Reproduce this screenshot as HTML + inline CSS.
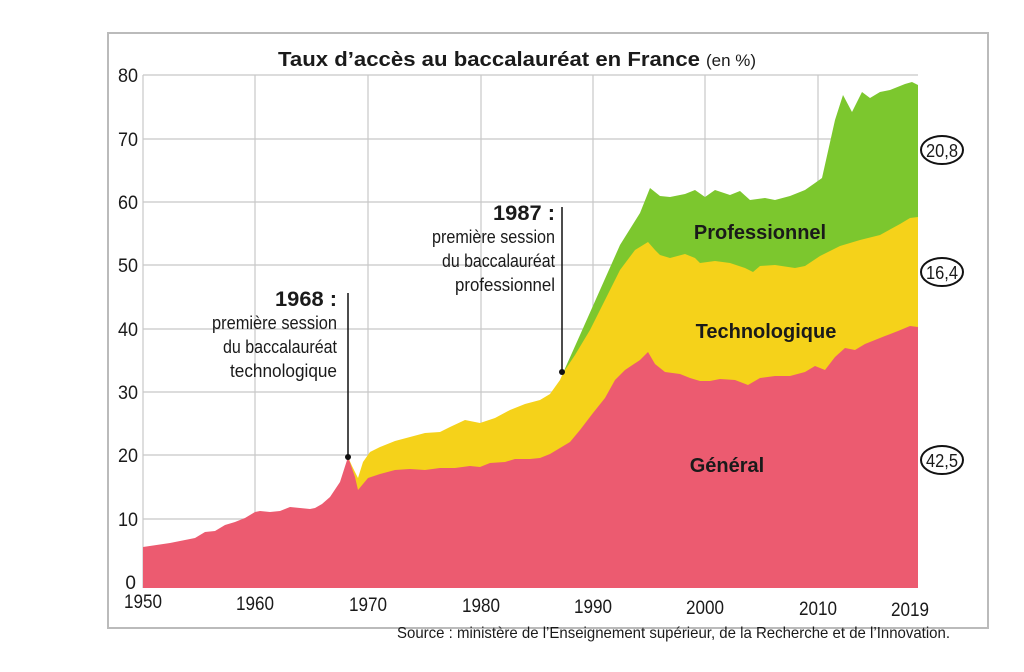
<!DOCTYPE html>
<html><head><meta charset="utf-8"><style>
body{margin:0;background:#fff;}
svg{display:block;}
text{font-family:"Liberation Sans Narrow","Liberation Sans",sans-serif;fill:#1a1a1a;}
.b{font-family:"Liberation Sans",sans-serif;font-weight:bold;}
</style></head><body>
<svg width="1024" height="672" viewBox="0 0 1024 672">
<rect x="108" y="33" width="880" height="595" fill="none" stroke="#bbb" stroke-width="2"/>
<g stroke="#c8c8c8" stroke-width="1.2">
<line x1="143" y1="75" x2="918" y2="75"/><line x1="143" y1="139" x2="918" y2="139"/>
<line x1="143" y1="202" x2="918" y2="202"/><line x1="143" y1="265" x2="918" y2="265"/>
<line x1="143" y1="329" x2="918" y2="329"/><line x1="143" y1="392" x2="918" y2="392"/>
<line x1="143" y1="455" x2="918" y2="455"/><line x1="143" y1="519" x2="918" y2="519"/>
<line x1="143" y1="75" x2="143" y2="588"/><line x1="255" y1="75" x2="255" y2="588"/>
<line x1="368" y1="75" x2="368" y2="588"/><line x1="481" y1="75" x2="481" y2="588"/>
<line x1="593" y1="75" x2="593" y2="588"/><line x1="705" y1="75" x2="705" y2="588"/>
<line x1="818" y1="75" x2="818" y2="588"/>
</g>
<polygon fill="#7cc72e" points="563,373 580,335 600,290 620,245 640,213 650,188 660,196 670,197 685,194 695,190 705,197 715,190 730,195 740,191 750,200 765,198 775,200 790,196 805,190 815,183 822,178 835,120 843,95 852,112 862,92 870,98 880,92 890,90 905,84 912,82 918,85 918,300 563,380"/>
<polygon fill="#f5d21a" points="348,457 352,466 358,478 363,462 370,452 380,447 395,441 410,437 425,433 440,432 450,427 465,420 480,423 495,418 510,410 525,404 540,400 550,394 560,380 563,373 575,355 590,330 605,300 620,270 635,250 648,242 655,250 660,255 670,258 685,254 695,258 700,263 715,261 730,263 745,268 753,272 760,266 775,265 795,268 805,266 820,256 840,246 860,240 880,235 900,224 910,218 918,217 918,500 348,500"/>
<polygon fill="#ec5b70" points="143,588 143,547 170,543 195,538 205,532 215,531 225,525 235,522 245,518 255,512 260,511 270,512 280,511 290,507 300,508 310,509 315,508 322,504 330,497 340,482 348,457 355,477 358,490 368,478 380,474 395,470 410,469 425,470 440,468 455,468 470,466 480,467 490,463 505,462 515,459 530,459 540,458 550,454 560,448 570,442 580,430 593,413 605,398 615,380 625,370 640,360 648,352 655,364 665,372 680,374 690,378 700,381 710,381 720,379 735,380 748,385 760,378 775,376 790,376 805,372 815,366 825,370 835,357 845,348 855,350 865,344 875,340 885,336 898,331 910,326 918,327 918,588"/>
<g font-size="19" text-anchor="end">
<text x="138" y="82" textLength="20" lengthAdjust="spacingAndGlyphs">80</text><text x="138" y="146" textLength="20" lengthAdjust="spacingAndGlyphs">70</text><text x="138" y="209" textLength="20" lengthAdjust="spacingAndGlyphs">60</text>
<text x="138" y="272" textLength="20" lengthAdjust="spacingAndGlyphs">50</text><text x="138" y="336" textLength="20" lengthAdjust="spacingAndGlyphs">40</text><text x="138" y="399" textLength="20" lengthAdjust="spacingAndGlyphs">30</text>
<text x="138" y="462" textLength="20" lengthAdjust="spacingAndGlyphs">20</text><text x="138" y="526" textLength="20" lengthAdjust="spacingAndGlyphs">10</text><text x="136" y="589">0</text>
</g>
<g font-size="19" text-anchor="middle">
<text x="143" y="608" textLength="38" lengthAdjust="spacingAndGlyphs">1950</text><text x="255" y="610" textLength="38" lengthAdjust="spacingAndGlyphs">1960</text><text x="368" y="611" textLength="38" lengthAdjust="spacingAndGlyphs">1970</text>
<text x="481" y="612" textLength="38" lengthAdjust="spacingAndGlyphs">1980</text><text x="593" y="613" textLength="38" lengthAdjust="spacingAndGlyphs">1990</text><text x="705" y="614" textLength="38" lengthAdjust="spacingAndGlyphs">2000</text>
<text x="818" y="615" textLength="38" lengthAdjust="spacingAndGlyphs">2010</text><text x="910" y="616" textLength="38" lengthAdjust="spacingAndGlyphs">2019</text>
</g>
<text x="278" y="66" class="b" font-size="20" textLength="422" lengthAdjust="spacingAndGlyphs">Taux d’accès au baccalauréat en France</text>
<text x="706" y="66" font-size="17" textLength="50" lengthAdjust="spacingAndGlyphs">(en %)</text>
<text x="760" y="239" class="b" font-size="20" text-anchor="middle">Professionnel</text>
<text x="766" y="338" class="b" font-size="20" text-anchor="middle">Technologique</text>
<text x="727" y="472" class="b" font-size="20" text-anchor="middle">Général</text>
<g fill="none" stroke="#111" stroke-width="2">
<ellipse cx="942" cy="150" rx="21" ry="14"/><ellipse cx="942" cy="272" rx="21" ry="14"/><ellipse cx="942" cy="460" rx="21" ry="14"/>
</g>
<g font-size="18" text-anchor="middle">
<text x="942" y="157" textLength="32" lengthAdjust="spacingAndGlyphs">20,8</text><text x="942" y="279" textLength="32" lengthAdjust="spacingAndGlyphs">16,4</text><text x="942" y="467" textLength="32" lengthAdjust="spacingAndGlyphs">42,5</text>
</g>
<g stroke="#111" stroke-width="1.5"><line x1="562" y1="207" x2="562" y2="372"/><line x1="348" y1="293" x2="348" y2="457"/></g>
<circle cx="562" cy="372" r="3" fill="#111"/><circle cx="348" cy="457" r="3" fill="#111"/>
<g text-anchor="end" font-size="18">
<text x="555" y="220" class="b" font-size="21" textLength="62" lengthAdjust="spacingAndGlyphs">1987 :</text>
<text x="555" y="243" textLength="123" lengthAdjust="spacingAndGlyphs">première session</text><text x="555" y="267" textLength="113" lengthAdjust="spacingAndGlyphs">du baccalauréat</text><text x="555" y="291" textLength="100" lengthAdjust="spacingAndGlyphs">professionnel</text>
<text x="337" y="306" class="b" font-size="21" textLength="62" lengthAdjust="spacingAndGlyphs">1968 :</text>
<text x="337" y="329" textLength="125" lengthAdjust="spacingAndGlyphs">première session</text><text x="337" y="353" textLength="114" lengthAdjust="spacingAndGlyphs">du baccalauréat</text><text x="337" y="377" textLength="107" lengthAdjust="spacingAndGlyphs">technologique</text>
</g>
<text x="950" y="638" font-size="16" text-anchor="end" textLength="553" lengthAdjust="spacingAndGlyphs">Source : ministère de l’Enseignement supérieur, de la Recherche et de l’Innovation.</text>
</svg>
</body></html>
